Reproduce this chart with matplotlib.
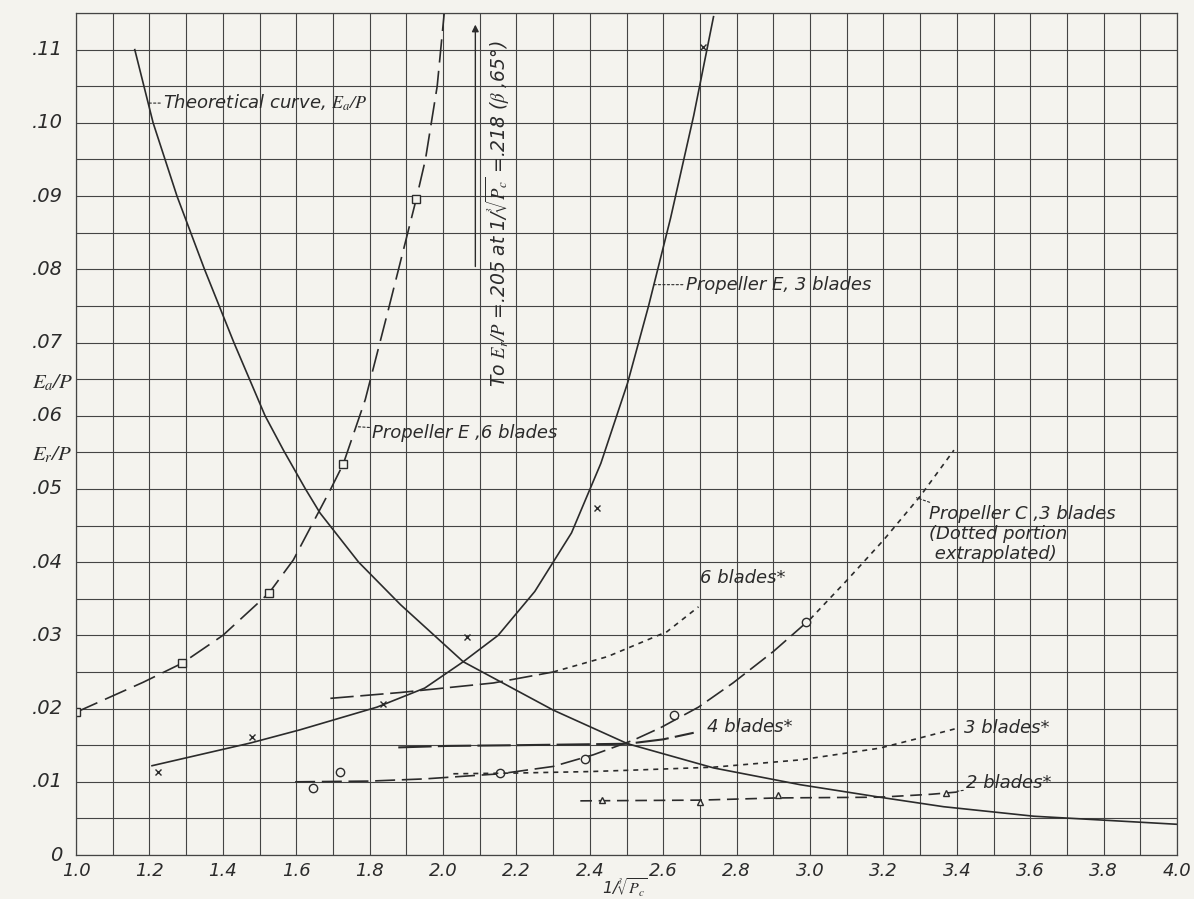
import numpy as np
import matplotlib
matplotlib.use('Agg')
import matplotlib.pyplot as plt
from matplotlib.ticker import MultipleLocator

# --- valori ---
theory_x = [1.16, 1.21, 1.275, 1.35, 1.43, 1.515, 1.565, 1.625, 1.665, 1.77, 1.884,
            2.055, 2.30, 2.503, 2.737, 2.974, 3.19, 3.364, 3.61, 4.0]
theory_y = [.110, .100, .090, .080, .070, .060, .0553, .050, .0467, .040, .0342,
            .0264, .0198, .0152, .0119, .0096, .0079, .0066, .0053, .0042]

e6_x = [1.0, 1.183, 1.289, 1.40, 1.526, 1.592, 1.693, 1.728, 1.788, 1.851,
        1.927, 1.952, 1.984, 2.004]
e6_y = [.0195, .0236, .0262, .0300, .0358, .0403, .0499, .0534, .0622, .0745,
        .0896, .0950, .1050, .1154]
e6_pts_x = [1.0, 1.289, 1.526, 1.728, 1.927]
e6_pts_y = [.0195, .0262, .0358, .0534, .0896]

e3_x = [1.207, 1.475, 1.61, 1.82, 1.95, 2.055, 2.15, 2.25, 2.35, 2.43, 2.503,
        2.56, 2.62, 2.683, 2.737]
e3_y = [.0122, .0153, .0171, .0202, .0228, .0264, .0300, .0360, .0440, .0535, .0645,
        .0750, .0870, .1010, .1145]
e3_pts_x = [1.224, 1.48, 1.837, 2.066, 2.42, 2.707]
e3_pts_y = [.0113, .0161, .0206, .0298, .0474, .1104]

c3_x = [1.597, 1.80, 1.95, 2.156, 2.30, 2.41, 2.519, 2.593, 2.696, 2.79, 2.90, 3.00]
c3_y = [.0100, .0101, .0104, .0111, .0121, .0137, .0157, .0174, .0202, .0235, .0278, .0322]
c3_ext_x = [3.00, 3.10, 3.20, 3.30, 3.392]
c3_ext_y = [.0322, .0375, .0430, .0490, .0553]
c3_pts_x = [1.646, 1.718, 2.156, 2.388, 2.628, 2.988]
c3_pts_y = [.0092, .0113, .0112, .0131, .0191, .0318]

b6_x = [1.693, 1.884, 2.137, 2.30]
b6_y = [.0214, .0222, .0235, .0250]
b6_ext_x = [2.30, 2.448, 2.61, 2.696]
b6_ext_y = [.0250, .0271, .0305, .0339]

b4_x = [1.878, 2.01, 2.20, 2.503, 2.60, 2.683]
b4_y = [.0147, .0149, .0150, .0152, .0158, .0167]

b3_x = [2.028, 2.20, 2.40, 2.519, 2.737, 2.974, 3.19, 3.30, 3.40]
b3_y = [.0111, .0112, .0114, .0116, .0120, .0130, .0146, .0160, .0173]

b2_x = [2.374, 2.70, 2.912, 3.19, 3.33, 3.40]
b2_y = [.0074, .0075, .0078, .0079, .0083, .0086]
b2_pts_x = [2.432, 2.70, 2.912, 3.37]
b2_pts_y = [.0075, .0073, .0082, .0085]

x_ticks = [1.0, 1.2, 1.4, 1.6, 1.8, 2.0, 2.2, 2.4, 2.6, 2.8, 3.0, 3.2, 3.4, 3.6, 3.8, 4.0]
y_ticks = [0, .01, .02, .03, .04, .05, .06, .07, .08, .09, .10, .11]
y_labels = ['0', '.01', '.02', '.03', '.04', '.05', '.06', '.07', '.08', '.09', '.10', '.11']

plt.rcParams['font.family'] = 'DejaVu Sans'
plt.rcParams['font.style'] = 'italic'
plt.rcParams['mathtext.fontset'] = 'stix'

paper = '#f4f3ee'
ink = '#2b2b2b'

fig = plt.figure(figsize=(11.94, 8.99), dpi=100, facecolor=paper)
ax = fig.add_axes([0.0637, 0.0489, 0.9221, 0.9366])
ax.set_facecolor(paper)
ax.set_xlim(1.0, 4.0)
ax.set_ylim(0, 0.115)

ax.xaxis.set_major_locator(MultipleLocator(0.1))
ax.yaxis.set_major_locator(MultipleLocator(0.005))
ax.grid(True, color='#444444', lw=0.8)
ax.tick_params(length=0, labelbottom=False, labelleft=False)
for s in ax.spines.values():
    s.set_color('#444444')
    s.set_linewidth(0.9)

fs = 13
for xv in x_ticks:
    ax.text(xv, -0.0009, '%.1f' % xv, ha='center', va='top', fontsize=13, color=ink)
for yv, lab in zip(y_ticks, y_labels):
    ax.text(-0.012, yv, lab, ha='right', va='center', fontsize=14, color=ink,
            transform=ax.get_yaxis_transform())

lw = 1.2
ax.plot(theory_x, theory_y, color=ink, lw=lw)
ax.plot(e6_x, e6_y, color=ink, lw=lw, ls=(0, (14, 5)))
ax.plot(e6_pts_x, e6_pts_y, ls='none', marker='s', ms=6, mfc=paper, mec=ink, mew=1)
ax.plot(e3_x, e3_y, color=ink, lw=lw)
ax.plot(e3_pts_x, e3_pts_y, ls='none', marker='x', ms=5, mec=ink, mew=1)
ax.plot(c3_x, c3_y, color=ink, lw=lw, ls=(0, (12, 4)))
ax.plot(c3_ext_x, c3_ext_y, color=ink, lw=lw, ls=(0, (3, 3)))
ax.plot(c3_pts_x, c3_pts_y, ls='none', marker='o', ms=6, mfc=paper, mec=ink, mew=1)
ax.plot(b6_x, b6_y, color=ink, lw=lw, ls=(0, (14, 4)))
ax.plot(b6_ext_x, b6_ext_y, color=ink, lw=lw, ls=(0, (3, 3)))
ax.plot(b4_x, b4_y, color=ink, lw=1.5, ls=(0, (16, 3)))
ax.plot(b3_x, b3_y, color=ink, lw=lw, ls=(0, (3, 3)))
ax.plot(b2_x, b2_y, color=ink, lw=lw, ls=(0, (7, 4)))
ax.plot(b2_pts_x, b2_pts_y, ls='none', marker='^', ms=5, mfc=paper, mec=ink, mew=1)

leader = dict(arrowstyle='-', color=ink, lw=0.8, ls=(0, (2, 2)), shrinkA=0, shrinkB=0)
ax.annotate('Theoretical curve, $E_a/P$', xy=(1.20, .1027), xytext=(1.237, .1027),
            fontsize=fs, va='center', color=ink, arrowprops=leader)
ax.annotate('Propeller E ,6 blades', xy=(1.766, .0585), xytext=(1.807, .0576),
            fontsize=fs, va='center', color=ink, arrowprops=leader)
ax.annotate('Propeller E, 3 blades', xy=(2.571, .0779), xytext=(2.661, .0779),
            fontsize=fs, va='center', color=ink, arrowprops=leader)
ax.annotate('Propeller C ,3 blades\n(Dotted portion\n extrapolated)',
            xy=(3.29, .0488), xytext=(3.323, .0478), fontsize=fs, va='top',
            color=ink, linespacing=1.15, arrowprops=leader)
ax.text(2.70, .0378, '6 blades*', fontsize=fs, va='center', color=ink)
ax.text(2.72, .0175, '4 blades*', fontsize=fs, va='center', color=ink)
ax.text(3.42, .0173, '3 blades*', fontsize=fs, va='center', color=ink)
ax.annotate('2 blades*', xy=(3.40, .0087), xytext=(3.425, .0098),
            fontsize=fs, va='center', color=ink, arrowprops=leader)

ax.annotate('', xy=(2.088, .1138), xytext=(2.088, .080),
            arrowprops=dict(arrowstyle='-|>', color=ink, lw=1, mutation_scale=10))
ax.text(2.148, .0876, r'To $E_r/P$ =.205 at 1/$\sqrt[3]{P_c}$ =.218 ($\beta$ ,65°)',
        rotation=90, ha='center', va='center', fontsize=13.5, color=ink)

fig.text(0.027, 1 - 383 / 899, '$E_a/P$', fontsize=15, va='center', color=ink)
fig.text(0.027, 1 - 455 / 899, '$E_r/P$', fontsize=15, va='center', color=ink)
fig.text(0.523, 0.0, r'1/$\sqrt[3]{P_c}$', ha='center', va='bottom', fontsize=11.5, color=ink)

fig.savefig('out.png', dpi=100, facecolor=paper)
